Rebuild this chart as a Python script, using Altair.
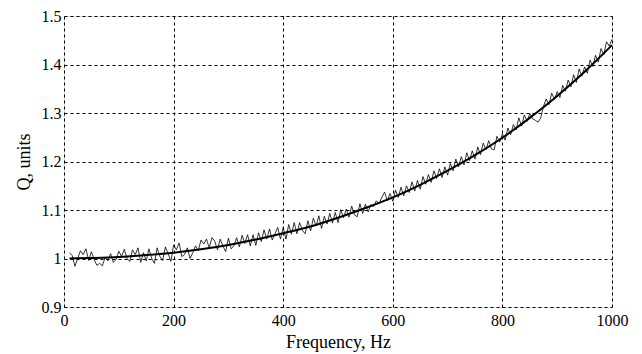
import altair as alt
import pandas as pd

# Smooth (fitted) curve, every 50 Hz
fit_freq = [10, 50, 100, 150, 200, 250, 300, 350, 400, 450, 500, 550, 600,
            650, 700, 750, 800, 850, 900, 950, 1000]
fit_q = [1.000, 1.001, 1.003, 1.007, 1.012, 1.019, 1.028, 1.039, 1.052, 1.066,
         1.084, 1.104, 1.126, 1.152, 1.181, 1.213, 1.249, 1.290, 1.335, 1.385, 1.440]

# Measured (noisy) curve, every 5 Hz from 10 to 1000
meas_freq = list(range(10, 1001, 5))
meas_q = [
    1.012, 1.006, 0.984, 1.000, 1.016, 1.008, 1.020, 0.996,
    1.014, 0.998, 0.986, 0.990, 0.985, 1.002, 0.995, 1.010, 0.992, 0.998,
    1.015, 1.004, 1.019, 1.000, 0.994, 1.018, 1.008, 1.022, 0.992, 1.012,
    0.995, 1.020, 1.000, 0.990, 1.022, 1.004, 0.996, 1.024, 1.010, 0.994,
    1.028, 1.018, 1.032, 1.004, 1.008, 1.022, 1.000, 1.012, 1.026, 1.016,
    1.038, 1.030, 1.040, 1.022, 1.043, 1.036, 1.018, 1.040, 1.026, 1.014,
    1.042, 1.020, 1.026, 1.043, 1.024, 1.048, 1.031, 1.049, 1.026, 1.049,
    1.027, 1.053, 1.035, 1.059, 1.040, 1.061, 1.038, 1.051, 1.064, 1.040,
    1.064, 1.040, 1.070, 1.050, 1.074, 1.051, 1.074, 1.058, 1.051, 1.078,
    1.057, 1.083, 1.067, 1.088, 1.062, 1.087, 1.071, 1.093, 1.073, 1.095,
    1.074, 1.101, 1.084, 1.102, 1.085, 1.108, 1.090, 1.086, 1.113, 1.093,
    1.112, 1.096, 1.111, 1.107, 1.119, 1.113, 1.126, 1.137, 1.119, 1.134,
    1.118, 1.141, 1.126, 1.147, 1.129, 1.150, 1.136, 1.158, 1.139, 1.161,
    1.143, 1.169, 1.153, 1.173, 1.157, 1.181, 1.165, 1.185, 1.167, 1.189,
    1.172, 1.196, 1.181, 1.205, 1.189, 1.210, 1.193, 1.218, 1.202, 1.222,
    1.205, 1.230, 1.214, 1.238, 1.224, 1.243, 1.226, 1.224, 1.252, 1.240,
    1.257, 1.244, 1.269, 1.255, 1.276, 1.265, 1.290, 1.273, 1.296, 1.283,
    1.299, 1.288, 1.285, 1.281, 1.290, 1.314, 1.329, 1.317, 1.341, 1.328,
    1.344, 1.332, 1.357, 1.345, 1.368, 1.354, 1.379, 1.363, 1.391, 1.376,
    1.395, 1.382, 1.409, 1.396, 1.419, 1.405, 1.433, 1.420, 1.447, 1.438,
    1.452,
]

x_ticks = [0, 200, 400, 600, 800, 1000]
y_ticks = [0.9, 1.0, 1.1, 1.2, 1.3, 1.4, 1.5]

meas_df = pd.DataFrame({"f": meas_freq, "q": meas_q})
fit_df = pd.DataFrame({"f": fit_freq, "q": fit_q})

FONT = "Liberation Serif"

x_enc = alt.X("f:Q", scale=alt.Scale(domain=[0, 1000], nice=False),
              axis=alt.Axis(values=x_ticks, title="Frequency, Hz", format="d",
                            grid=True, gridDash=[3, 3], gridColor="black",
                            gridOpacity=1, ticks=False, domain=False,
                            labelFlush=False,
                            labelFont=FONT, labelFontSize=16, labelColor="black",
                            labelPadding=5, titleFont=FONT, titleFontSize=18,
                            titleFontWeight="normal", titleColor="black",
                            titlePadding=5))
y_enc = alt.Y("q:Q", scale=alt.Scale(domain=[0.9, 1.5], nice=False, zero=False),
              axis=alt.Axis(values=y_ticks, title="Q, units", format=".1~f",
                            grid=True, gridDash=[3, 3], gridColor="black",
                            gridOpacity=1, ticks=False, domain=False,
                            labelFlush=False,
                            labelFont=FONT, labelFontSize=16, labelColor="black",
                            labelPadding=3, titleFont=FONT, titleFontSize=18,
                            titleFontWeight="normal", titleColor="black",
                            titlePadding=8))

meas = alt.Chart(meas_df).mark_line(color="black", strokeWidth=0.8).encode(x=x_enc, y=y_enc)
fit = alt.Chart(fit_df).mark_line(color="black", strokeWidth=2,
                                  interpolate="monotone").encode(x="f:Q", y="q:Q")

chart = (meas + fit).properties(
    width=548, height=291,
    autosize="none",
    padding={"left": 56, "top": 8, "right": 22, "bottom": 46},
).configure_view(stroke="black", strokeWidth=1.2).configure(background="white", font=FONT)

chart.save("out.html", embed_options={"renderer": "svg", "actions": False})
